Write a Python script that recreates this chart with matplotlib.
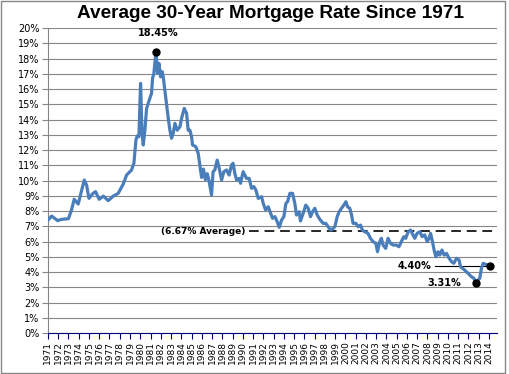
import numpy as np
import matplotlib.pyplot as plt
from matplotlib.patches import Rectangle

# Rates (year position, percent)
years = [1971.00, 1971.36, 1971.95, 1972.30, 1973.00, 1973.30, 1973.56, 1973.95,
         1974.54, 1974.77, 1975.00, 1975.40, 1975.64, 1976.00, 1976.40, 1976.88,
         1977.37, 1977.85, 1978.34, 1978.67, 1979.15, 1979.38, 1979.58, 1979.70,
         1979.87, 1980.03, 1980.16, 1980.29, 1980.45, 1980.62, 1980.88, 1981.10,
         1981.20, 1981.33, 1981.53, 1981.69, 1981.82, 1981.98, 1982.14, 1982.24,
         1982.47, 1982.73, 1982.89, 1983.05, 1983.21, 1983.38, 1983.60, 1983.87,
         1984.03, 1984.29, 1984.52, 1984.67, 1984.84, 1985.00, 1985.10, 1985.42,
         1985.65, 1985.81, 1985.98, 1986.16, 1986.35, 1986.53, 1986.70, 1986.95,
         1987.10, 1987.27, 1987.50, 1987.70, 1987.93, 1988.15, 1988.41, 1988.66,
         1988.90, 1989.05, 1989.22, 1989.39, 1989.64, 1989.78, 1990.03, 1990.36,
         1990.62, 1990.85, 1991.08, 1991.27, 1991.50, 1991.83, 1991.99, 1992.22,
         1992.48, 1992.71, 1992.90, 1993.13, 1993.35, 1993.55, 1993.78, 1994.00,
         1994.20, 1994.36, 1994.59, 1994.85, 1995.07, 1995.23, 1995.49, 1995.62,
         1995.88, 1996.14, 1996.37, 1996.60, 1996.80, 1997.02, 1997.25, 1997.51,
         1997.83, 1998.09, 1998.32, 1998.55, 1998.81, 1998.97, 1999.20, 1999.39,
         1999.62, 1999.85, 2000.05, 2000.21, 2000.43, 2000.60, 2000.75, 2001.02,
         2001.24, 2001.47, 2001.66, 2001.88, 2002.20, 2002.44, 2002.70, 2002.97,
         2003.13, 2003.35, 2003.51, 2003.67, 2003.93, 2004.16, 2004.39, 2004.65,
         2004.97, 2005.22, 2005.46, 2005.69, 2005.88, 2006.12, 2006.35, 2006.60,
         2006.76, 2006.99, 2007.26, 2007.48, 2007.74, 2007.97, 2008.16, 2008.30,
         2008.49, 2008.65, 2008.82, 2009.04, 2009.20, 2009.42, 2009.62, 2009.86,
         2010.11, 2010.35, 2010.57, 2010.83, 2011.08, 2011.22, 2011.41, 2011.63,
         2011.96, 2012.29, 2012.52, 2012.72, 2012.94, 2013.10, 2013.26, 2013.43,
         2013.69, 2013.91, 2014.08]
rates = [7.40, 7.67, 7.37, 7.45, 7.50, 8.07, 8.77, 8.46,
         10.03, 9.70, 8.83, 9.16, 9.27, 8.77, 8.98, 8.68,
         8.98, 9.16, 9.77, 10.36, 10.69, 11.13, 12.66, 12.92,
         12.87, 16.37, 13.30, 12.33, 13.30, 14.73, 15.28, 15.72,
         16.70, 17.03, 18.45, 17.03, 17.69, 16.80, 17.14, 16.80,
         15.50, 14.08, 13.30, 12.77, 13.10, 13.75, 13.30, 13.53,
         14.08, 14.73, 14.40, 13.30, 13.30, 12.87, 12.33, 12.22,
         11.78, 11.02, 10.20, 10.75, 10.05, 10.45, 10.00, 9.05,
         10.58, 10.69, 11.34, 10.80, 10.03, 10.58, 10.69, 10.36,
         11.02, 11.13, 10.47, 10.03, 10.14, 9.82, 10.58, 10.14,
         10.14, 9.49, 9.60, 9.38, 8.83, 8.94, 8.50, 8.07,
         8.28, 7.85, 7.52, 7.63, 7.30, 6.93, 7.41, 7.63,
         8.50, 8.61, 9.16, 9.16, 8.50, 7.74, 7.95, 7.35,
         7.85, 8.39, 8.18, 7.63, 7.95, 8.18, 7.74, 7.45,
         7.19, 7.19, 6.97, 6.75, 6.86, 6.97, 7.63, 7.95,
         8.18, 8.39, 8.61, 8.28, 8.18, 7.74, 7.19, 7.19,
         6.97, 7.08, 6.75, 6.64, 6.54, 6.21, 5.99, 5.88,
         5.33, 5.99, 6.21, 5.77, 5.55, 6.21, 5.88, 5.77,
         5.77, 5.66, 5.99, 6.32, 6.21, 6.64, 6.75, 6.43,
         6.21, 6.54, 6.64, 6.32, 6.43, 5.99, 6.21, 6.54,
         5.99, 5.44, 5.00, 5.33, 5.11, 5.44, 5.11, 5.22,
         4.90, 4.68, 4.57, 4.90, 4.79, 4.35, 4.24, 4.13,
         3.91, 3.69, 3.59, 3.31, 3.48, 3.59, 4.24, 4.57,
         4.50, 4.46, 4.40]

year_labels = list(range(1971, 2015))
average = 6.67
peak_idx = int(np.argmax(rates))
low_idx = len(rates) - 1 - int(np.argmin(rates[::-1]))
last_idx = len(rates) - 1

fig = plt.figure(figsize=(5.1, 3.74), dpi=100)
fig.patches.append(Rectangle((0.002, 0.003), 0.988, 0.994, transform=fig.transFigure,
                             fill=False, edgecolor='#868686', linewidth=1))
ax = fig.add_axes([0.094, 0.1096, 0.8805, 0.8154])

ax.plot(years, rates, color='#4A7EBB', linewidth=2.3, zorder=3)

# average line and labels
ax.plot([1990.6, 2014.78], [average, average], color='#262626', linestyle=(0, (5, 3)),
        linewidth=1.4, zorder=2)
ax.text(1990.2, average, '(6.67% Average)', ha='right', va='center',
        fontsize=6.5, fontweight='bold')

# marked points
for i in (peak_idx, low_idx, last_idx):
    ax.plot(years[i], rates[i], 'o', color='black', markersize=5, zorder=4)

ax.annotate('%.2f%%' % rates[peak_idx], (years[peak_idx], rates[peak_idx]),
            xytext=(1.5, 10), textcoords='offset points', ha='center', va='bottom',
            fontsize=7, fontweight='bold')
ax.plot([2008.7, years[last_idx]], [rates[last_idx], rates[last_idx]],
        color='black', linewidth=0.8, zorder=2)
ax.text(2008.4, rates[last_idx], '%.2f%%' % rates[last_idx], ha='right', va='center',
        fontsize=7, fontweight='bold')
ax.text(2011.25, rates[low_idx], '%.2f%%' % rates[low_idx], ha='right', va='center',
        fontsize=7, fontweight='bold')

ax.set_xlim(1971, 2014.78)
ax.set_ylim(0, 20)
ax.set_yticks(range(0, 21))
ax.set_yticklabels(['%d%%' % v for v in range(0, 21)], fontsize=7)
ax.set_xticks(year_labels)
ax.set_xticklabels([str(y) for y in year_labels], rotation=90, fontsize=6.5)
ax.grid(axis='y', color='#868686', linewidth=0.8)
ax.set_axisbelow(True)

for s in ('top', 'right'):
    ax.spines[s].set_visible(False)
ax.spines['left'].set_color('#868686')
ax.spines['bottom'].set_color('#000080')
ax.tick_params(axis='y', colors='#868686', labelcolor='black', length=4, pad=2)
ax.tick_params(axis='x', colors='#000080', labelcolor='black', length=4, pad=2)

fig.text(0.53, 0.963, 'Average 30-Year Mortgage Rate Since 1971', ha='center', va='center',
         fontsize=13.7, fontweight='bold', family='Liberation Sans')

fig.savefig('out.png', dpi=100)
